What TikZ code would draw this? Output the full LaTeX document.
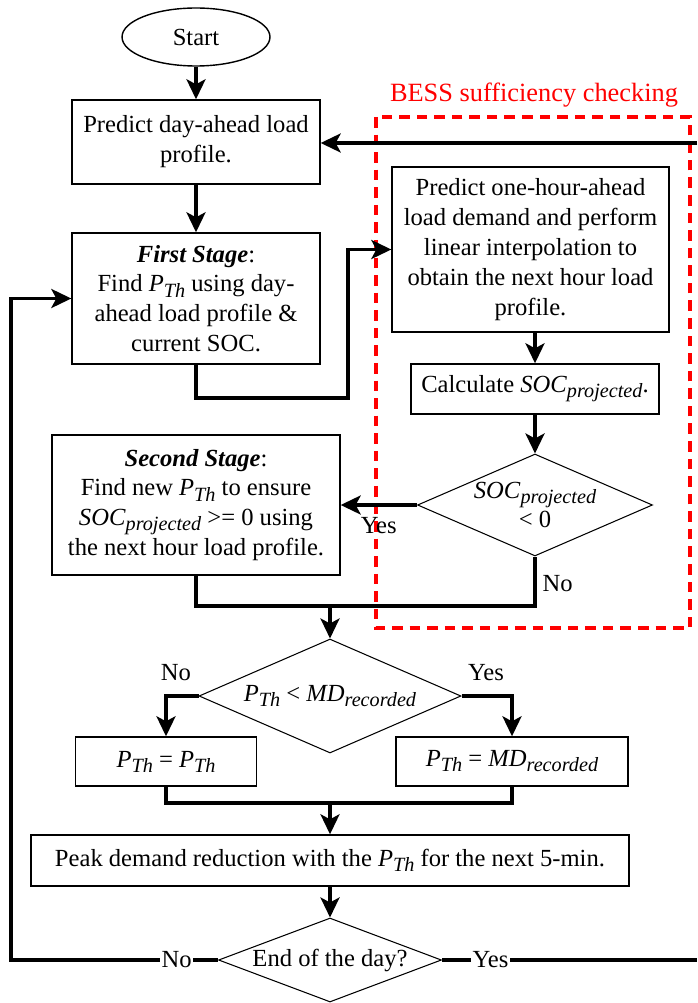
\documentclass[tikz,border=0pt]{standalone}
\usepackage{fontspec}
\setmainfont{Liberation Serif}
\usetikzlibrary{arrows.meta,positioning,shapes.geometric}
\definecolor{BessRed}{RGB}{255,0,0}
\newcommand{\isub}[1]{\raisebox{-0.45ex}{\fontsize{11.5}{12}\selectfont\textit{#1}}}
\newcommand{\PTh}{\textit{P}\isub{Th}}
\newcommand{\SOCp}{\textit{SOC}\isub{projected}}
\newcommand{\MDr}{\textit{MD}\isub{recorded}}

\begin{document}
\begin{tikzpicture}[x=0.02cm, y=-0.02cm,
    every node/.style={font=\fontsize{14}{17}\selectfont},
    box/.style={draw, line width=0.8pt, align=center, inner sep=2pt},
    decision/.style={draw, diamond, line width=0.6pt, inner sep=0pt},
    terminal/.style={draw, ellipse, line width=0.8pt},
    link/.style={line width=1.9pt},
    flow/.style={link, -{Stealth[length=4mm,width=3.8mm,inset=1mm]}},
    bess/.style={draw=BessRed, line width=1.8pt, dash pattern=on 6pt off 4pt}]
  \useasboundingbox (0,0) rectangle (697,1003);

  % BESS sufficiency checking block
  \draw[bess] (376,117) rectangle (690,628);
  \node[text=BessRed, font=\fontsize{15}{18}\selectfont] (bessTitle) at (534,95) {BESS sufficiency checking};

  \node[terminal, minimum width=2.96cm, minimum height=1.16cm] (start) at (196,37) {Start};
  \node[box, minimum width=4.96cm, minimum height=1.68cm] (predDay) at (196,142) {Predict day-ahead load\\profile.};
  \node[box, minimum width=4.96cm, minimum height=2.62cm] (stage1) at (196,298.5)
    {\textbf{\textit{First Stage}}:\\Find \PTh{} using day-\\ahead load profile \&\\current SOC.};
  \node[box, minimum width=5.54cm, minimum height=3.3cm] (predHour) at (530.5,249.5)
    {Predict one-hour-ahead\\load demand and perform\\linear interpolation to\\obtain the next hour load\\profile.};
  \node[box, minimum width=4.96cm, minimum height=1cm] (calcSoc) at (535,389) {Calculate \SOCp.};
  \node[decision, minimum width=4.7cm, minimum height=2.04cm,
    label={[align=center]center:{\SOCp\\< 0}}] (socCheck) at (535,505) {};
  \node[box, minimum width=5.76cm, minimum height=2.8cm] (stage2) at (196,505)
    {\textbf{\textit{Second Stage}}:\\Find new \PTh{} to ensure\\\SOCp{} >= 0 using\\the next hour load profile.};
  \node[decision, minimum width=5.24cm, minimum height=2.28cm,
    label={center:{\PTh{} < \MDr}}] (mdCheck) at (330,696) {};
  \node[box, minimum width=3.62cm, minimum height=0.98cm] (keepTh) at (166,761.5) {\PTh{} = \PTh};
  \node[box, minimum width=4.64cm, minimum height=0.98cm] (setTh) at (512,761.5) {\PTh{} = \MDr};
  \node[box, minimum width=11.96cm, minimum height=1.02cm] (shave) at (330,860.5)
    {Peak demand reduction with the \PTh{} for the next 5-min.};
  \node[decision, minimum width=4.46cm, minimum height=1.68cm,
    label={center:End of the day?}] (dayEnd) at (330,960) {};

  \coordinate (jog) at (348,398);
  \coordinate (join1) at (330,606);
  \coordinate (join2) at (330,803);
  \coordinate (loopL) at (11,960);
  \coordinate (exitR) at (697,960);
  \coordinate (entryR) at (697,143);

  \draw[flow] (start) -- (predDay);
  \draw[flow] (predDay) -- (stage1);
  \draw[flow] (stage1.south) |- (jog) |- (predHour.west);
  \draw[flow] (predHour.south -| calcSoc) -- (calcSoc);
  \draw[flow] (calcSoc) -- (socCheck);
  \draw[flow] (socCheck.west) -- node[below=3pt]{Yes} (socCheck.west -| stage2.east);
  \draw[link] (stage2.south) |- (join1) -| node[pos=0.725, right]{No} (socCheck.south);
  \draw[flow] (join1) -- (mdCheck);
  \draw[flow] (mdCheck.west) -| node[pos=0.5, above, xshift=0.2cm, yshift=0.15cm]{No} (keepTh.north);
  \draw[flow] (mdCheck.east) -| node[pos=0.5, above, xshift=-0.52cm, yshift=0.15cm]{Yes} (setTh.north);
  \draw[link] (keepTh.south) |- (join2) -| (setTh.south);
  \draw[flow] (join2) -- (shave);
  \draw[flow] (shave) -- (dayEnd);
  \draw[flow] (dayEnd.west) -- node[pos=0.2, fill=white, inner sep=1pt]{No} (loopL) |- (stage1.west);
  \draw[link] (dayEnd.east) -- node[pos=0.19, fill=white, inner sep=1pt]{Yes} (exitR);
  \draw[flow] (entryR) -- (predDay.east |- entryR);
\end{tikzpicture}
\end{document}
